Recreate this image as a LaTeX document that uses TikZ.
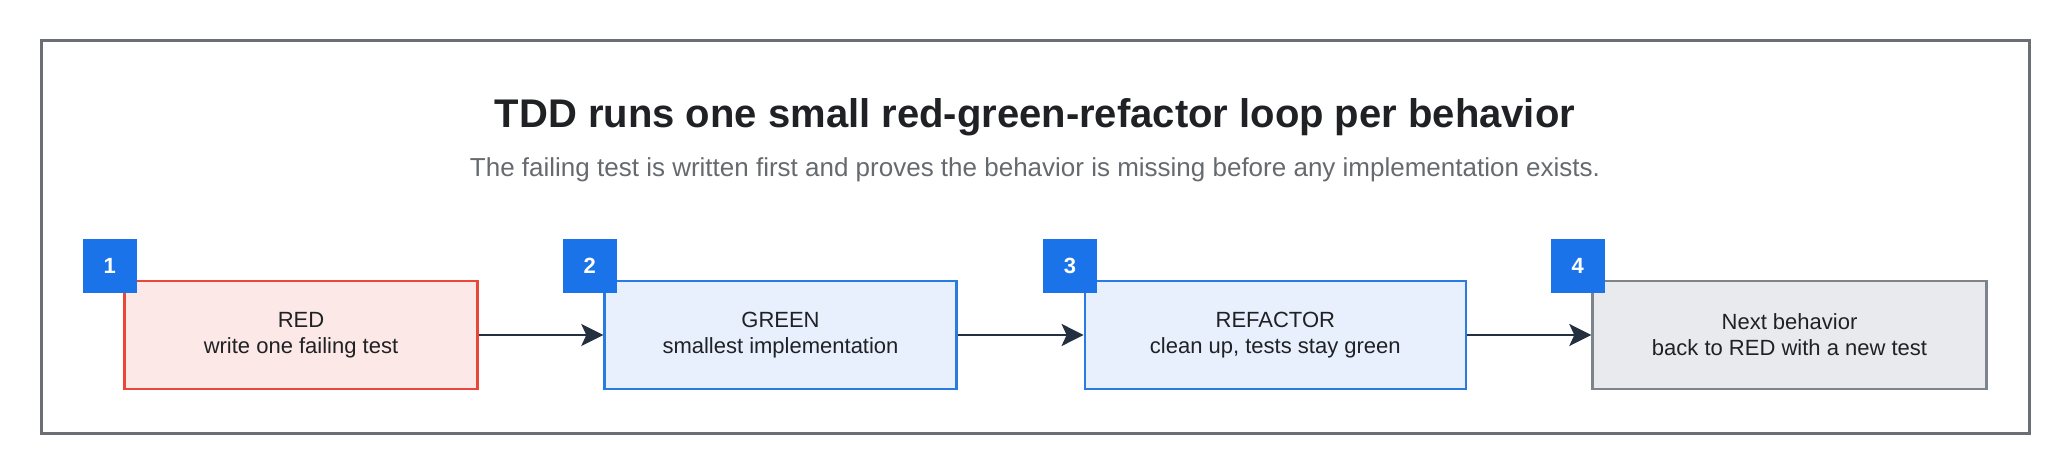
\documentclass[tikz,border=0pt]{standalone}
\usepackage{fontspec}
\setmainfont{Liberation Sans}
\usepackage{xcolor}
\usepackage{tikz}
\usetikzlibrary{arrows.meta}

\definecolor{redline}{HTML}{E8473A}
\definecolor{redfill}{HTML}{FCE8E6}
\definecolor{blueline}{HTML}{2A7BE0}
\definecolor{bluefill}{HTML}{E8F0FE}
\definecolor{greyline}{HTML}{7E848B}
\definecolor{greyfill}{HTML}{E8EAED}
\definecolor{badgeblue}{HTML}{1A73E8}
\definecolor{arrowdark}{HTML}{243040}
\definecolor{framegrey}{HTML}{6B6E72}
\definecolor{titledark}{HTML}{202124}
\definecolor{subgrey}{HTML}{666A6E}

\begin{document}
\begin{tikzpicture}[x=0.5pt, y=-0.5pt,
	stepbox/.style={draw, line width=1.2pt, minimum height=54pt, inner sep=0, align=center, text=titledark, font=\fontsize{11}{12.9}\selectfont},
	redbox/.style={stepbox, draw=redline, fill=redfill},
	bluebox/.style={stepbox, draw=blueline, fill=bluefill},
	greybox/.style={stepbox, draw=greyline, fill=greyfill},
	badge/.style={fill=badgeblue, minimum width=27pt, minimum height=27pt, inner sep=0, text=white, font=\fontsize{11}{13}\selectfont\bfseries},
	flow/.style={-{Stealth[length=11pt, width=11pt, inset=2.5pt]}, line width=1.3pt, draw=arrowdark}
]
\useasboundingbox (0,0) rectangle (2071,475);
%outer frame
\draw[line width=1.5pt, framegrey] (41,41) rectangle (2029,433);

\node[anchor=base, text=titledark, font=\fontsize{20}{24}\selectfont\bfseries] (title) at (1035,128) {TDD runs one small red-green-refactor loop per behavior};
\node[anchor=base, text=subgrey, font=\fontsize{13}{16}\selectfont] (subtitle) at (1035,177) {The failing test is written first and proves the behavior is missing before any implementation exists.};

%steps
\node[redbox, minimum width=176.5pt] (s1) at (301,335) {RED\\write one failing test};
\node[bluebox, minimum width=176pt] (s2) at (780.5,335) {GREEN\\smallest implementation};
\node[bluebox, minimum width=190.5pt] (s3) at (1275.3,335) {REFACTOR\\clean up, tests stay green};
\node[greybox, minimum width=197pt] (s4) at (1789.5,335) {Next behavior\\back to RED with a new test};

\node[badge] (b1) at ([shift={(-13.5,-14)}]s1.north west) {1};
\node[badge] (b2) at ([shift={(-13.5,-14)}]s2.north west) {2};
\node[badge] (b3) at ([shift={(-13.5,-14)}]s3.north west) {3};
\node[badge] (b4) at ([shift={(-13.5,-14)}]s4.north west) {4};

\draw[flow] (s1) -- (s2);
\draw[flow] (s2) -- (s3);
\draw[flow] (s3) -- (s4);
\end{tikzpicture}
\end{document}
